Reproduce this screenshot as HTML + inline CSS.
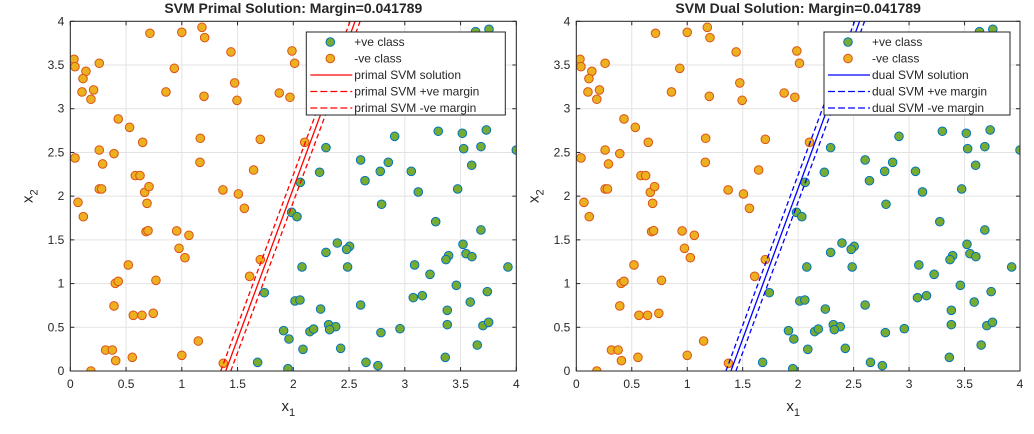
<!DOCTYPE html>
<html><head><meta charset="utf-8"><style>
body{margin:0;background:#fff;width:1034px;height:429px;overflow:hidden;font-family:"Liberation Sans",sans-serif}
svg text{font-family:"Liberation Sans","DejaVu Sans",sans-serif;fill:#262626}
</style></head><body>
<svg id="chart" width="1034" height="429" xmlns="http://www.w3.org/2000/svg"></svg>
<script>
const posX=[3.635,3.755,3.3,3.516,3.731,3.528,3.683,4.0,3.6,2.909,2.604,2.852,2.78,2.643,3.058,3.121,3.474,2.792,2.293,2.236,2.063,1.985,2.033,3.277,3.683,2.395,2.505,2.478,2.293,3.522,3.549,3.602,3.393,3.369,3.088,3.226,2.078,2.487,3.925,3.462,1.74,2.015,2.06,3.076,3.157,3.74,3.587,2.604,2.245,3.381,1.913,1.961,2.149,2.182,2.317,2.38,2.326,3.381,3.701,3.752,2.786,2.957,2.087,2.425,3.65,1.68,1.952,2.652,2.759,3.363];
const posY=[3.882,3.909,2.742,2.719,2.757,2.543,2.566,2.528,2.353,2.684,2.414,2.387,2.284,2.177,2.284,2.048,2.082,1.907,2.555,2.273,2.158,1.815,1.765,1.708,1.613,1.464,1.426,1.392,1.357,1.449,1.342,1.308,1.319,1.274,1.213,1.106,1.19,1.19,1.19,0.98,0.896,0.801,0.812,0.839,0.862,0.908,0.789,0.755,0.709,0.694,0.461,0.366,0.45,0.48,0.53,0.507,0.473,0.53,0.519,0.557,0.439,0.484,0.248,0.259,0.297,0.099,0.027,0.099,0.061,0.156];
const negX=[0.033,0.042,0.14,0.114,0.105,0.209,0.185,0.26,0.042,0.069,0.117,0.26,0.29,0.392,0.43,0.532,0.649,0.26,0.281,0.583,0.625,0.667,0.706,0.688,0.679,0.697,0.954,0.975,1.028,1.064,0.52,0.404,0.43,0.392,0.565,0.643,0.744,0.768,0.317,0.377,0.407,0.556,0.185,1.0,1.148,1.372,1.608,1.704,1.561,1.507,1.369,1.163,1.166,1.644,1.704,1.495,1.474,1.441,1.199,1.205,1.181,1.0,0.714,0.933,0.858,1.874,1.97,2.012,1.988,2.102];
const negY=[3.565,3.481,3.428,3.344,3.192,3.215,3.108,3.52,2.437,1.929,1.765,2.528,2.368,2.486,2.883,2.787,2.616,2.082,2.082,2.235,2.235,2.044,2.109,1.918,1.594,1.605,1.602,1.403,1.296,1.552,1.213,1.003,1.026,0.744,0.637,0.637,0.66,1.037,0.24,0.24,0.118,0.156,0,0.179,0.343,0.088,1.083,1.274,1.861,2.025,2.071,2.387,2.662,2.299,2.65,3.096,3.295,3.649,3.142,3.813,3.931,3.874,3.863,3.462,3.192,3.18,3.131,3.52,3.661,2.616];
const ticks=[0,0.5,1,1.5,2,2.5,3,3.5,4];
const tickLabels=["0","0.5","1","1.5","2","2.5","3","3.5","4"];
const lineIntercept=1.394, lineSlope=0.29, marginOffset=0.045;

const NS="http://www.w3.org/2000/svg";
const svg=document.getElementById('chart');
function mk(tag,attrs,parent){const e=document.createElementNS(NS,tag);for(const k in attrs)e.setAttribute(k,attrs[k]);(parent||svg).appendChild(e);return e;}

function panel(L,R,title,color,prefix,key){
  const T=21.3,B=371;
  const sx=v=>L+(v/4)*(R-L), sy=v=>B-(v/4)*(B-T);
  const g=mk('g',{});
  
  
  mk('rect',{x:L,y:T,width:R-L,height:B-T,fill:'#fff'},g);
  ticks.forEach((t,i)=>{
    const gx=mk('line',{x1:sx(t),x2:sx(t),y1:T,y2:B,stroke:'#e3e3e3','stroke-width':1},g);
    
    
    const gy=mk('line',{x1:L,x2:R,y1:sy(t),y2:sy(t),stroke:'#e3e3e3','stroke-width':1},g);
    
    
    mk('line',{x1:sx(t),x2:sx(t),y1:B,y2:B-4,stroke:'#262626'},g);
    mk('line',{x1:sx(t),x2:sx(t),y1:T,y2:T+4,stroke:'#262626'},g);
    mk('line',{x1:L,x2:L+4,y1:sy(t),y2:sy(t),stroke:'#262626'},g);
    mk('line',{x1:R,x2:R-4,y1:sy(t),y2:sy(t),stroke:'#262626'},g);
    const xt=mk('text',{x:sx(t),y:B+17,'font-size':12,'text-anchor':'middle'},g);xt.textContent=tickLabels[i];
    
    
    const yt=mk('text',{x:L-6,y:sy(t)+4,'font-size':12,'text-anchor':'end'},g);yt.textContent=tickLabels[i];
    
    
  });
  const cid='clip'+key;
  const cp=mk('clipPath',{id:cid},g);mk('rect',{x:L,y:T,width:R-L,height:B-T},cp);
  const pts=mk('g',{'clip-path':'url(#'+cid+')'},g);
  posX.forEach((x,i)=>{const c=mk('circle',{cx:sx(x),cy:sy(posY[i]),r:4.3,fill:'#77AC30',stroke:'#0072BD','stroke-width':1},pts);
    
    });
  negX.forEach((x,i)=>{const c=mk('circle',{cx:sx(x),cy:sy(negY[i]),r:4.3,fill:'#EDB120',stroke:'#D95319','stroke-width':1},pts);
    
    });
  [[0,''],[marginOffset,'5,3'],[-marginOffset,'5,3']].forEach((m,i)=>{
    const x0=lineIntercept+m[0], x1=lineIntercept+m[0]+lineSlope*4.4;
    const ln=mk('line',{x1:sx(x0),y1:sy(0),x2:sx(x1),y2:sy(4.4),stroke:color,'stroke-width':1.3,'stroke-dasharray':m[1]},pts);
    
    
  });
  mk('rect',{x:L,y:T,width:R-L,height:B-T,fill:'none',stroke:'#262626','stroke-width':1},g);
  const tt=mk('text',{x:(L+R)/2,y:13,'font-size':14,'font-weight':'bold','text-anchor':'middle',fill:'#000'},g);tt.textContent=title;
  
  
  const xl=mk('text',{x:(L+R)/2-5,y:411,'font-size':15,'text-anchor':'middle'},g);
  xl.innerHTML='x<tspan font-size="11" dy="5">1</tspan>';
  
  
  const yl=mk('text',{transform:`translate(${L-38},${(T+B)/2}) rotate(-90)`,'font-size':15,'text-anchor':'middle'},g);
  yl.innerHTML='x<tspan font-size="11" dy="5">2</tspan>';
  
  
  // legend
  const lx=R-210+ (key==='dual'?-3:0), lw=key==='dual'?186:199;
  const lg=mk('g',{},g);
  
  
  const legL=key==='dual'?R-196:R-210;
  mk('rect',{x:legL,y:32,width:lw,height:83,fill:'#fff',stroke:'#262626','stroke-width':1},lg);
  const labels=['+ve class','-ve class',prefix+' SVM solution',prefix+' SVM +ve margin',prefix+' SVM -ve margin'];
  labels.forEach((t,i)=>{
    const y=42+i*16.5;
    if(i<2) mk('circle',{cx:legL+24,cy:y,r:4.3,fill:i?'#EDB120':'#77AC30',stroke:i?'#D95319':'#0072BD'},lg);
    else mk('line',{x1:legL+4,x2:legL+46,y1:y,y2:y,stroke:color,'stroke-width':1.3,'stroke-dasharray':i==2?'':'7,3'},lg);
    const tx=mk('text',{x:legL+48,y:y+4,'font-size':12},lg);tx.textContent=t;
    
    
  });
}
panel(70.3,516.3,'SVM Primal Solution: Margin=0.041789','#ff0000','primal','primal');
panel(576.3,1020,'SVM Dual Solution: Margin=0.041789','#0000ff','dual','dual');
</script>
</body></html>
